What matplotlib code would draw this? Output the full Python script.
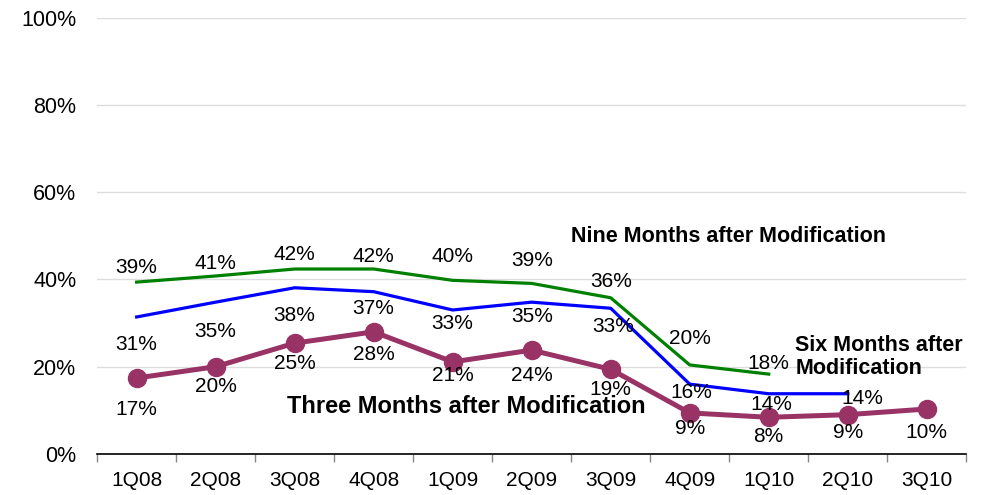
import numpy as np
import matplotlib.pyplot as plt
from matplotlib.ticker import FixedLocator, PercentFormatter

plt.rcParams["font.family"] = ["Liberation Sans", "DejaVu Sans"]

quarters = ["1Q08", "2Q08", "3Q08", "4Q08", "1Q09", "2Q09", "3Q09",
            "4Q09", "1Q10", "2Q10", "3Q10"]
nine_months = [39.4, 40.8, 42.4, 42.4, 39.8, 39.1, 35.8, 20.4, 18.3]
six_months = [31.4, 34.8, 38.1, 37.2, 33.0, 34.8, 33.4, 16.0, 13.8, 13.8]
three_months = [17.4, 20.0, 25.4, 28.0, 21.1, 23.8, 19.4, 9.4, 8.4, 9.0, 10.3]

# label placement (pixels below the point, x shift in pixels)
nine_dy = [-15, -12, -15, -13, -24, -23, -16, -26, -11]
six_dy = [28, 29, 28, 17, 13, 14, 18, 8, 11, 5]
six_dx = [0, 0, 0, 0, 0, 0, 2, 2, 3, 15]
three_dy = [31, 20, 20, 23, 14, 25, 20, 16, 19, 18, 24]

green = "#008000"
blue = "#0000ff"
plum = "#993366"

fig = plt.figure(figsize=(9.81, 4.95), dpi=100)
ax = fig.add_axes([0.099, 0.083, 0.886, 0.881])

x = np.arange(len(quarters))

ax.plot(x[:len(nine_months)], nine_months, color=green, lw=2.3, zorder=3)
ax.plot(x[:len(six_months)], six_months, color=blue, lw=2.3, zorder=3)
ax.plot(x, three_months, color=plum, lw=3.6, marker="o", ms=13,
        zorder=4)

# data labels
lab_size = 15
for xi, v, dy in zip(x, nine_months, nine_dy):
    ax.annotate(f"{round(v)}%", (xi, v), xytext=(0, -dy), textcoords="offset pixels",
                ha="center", va="center", fontsize=lab_size, zorder=5)
for xi, v, dy, dx in zip(x, six_months, six_dy, six_dx):
    ax.annotate(f"{round(v)}%", (xi, v), xytext=(dx, -dy), textcoords="offset pixels",
                ha="center", va="center", fontsize=lab_size, zorder=5)
for xi, v, dy in zip(x, three_months, three_dy):
    ax.annotate(f"{round(v)}%", (xi, v), xytext=(0, -dy), textcoords="offset pixels",
                ha="center", va="center", fontsize=lab_size, zorder=5)

# series names
ax.text(7.49, 49.8, "Nine Months after Modification", fontsize=15.5,
        fontweight="bold", ha="center", va="center")
ax.text(8.335, 22.2, "Six Months after\nModification", fontsize=15.5,
        fontweight="bold", ha="left", va="center", linespacing=1.1)
ax.text(1.905, 10.8, "Three Months after Modification", fontsize=17,
        fontweight="bold", ha="left", va="center")

ax.set_xlim(-0.5, len(quarters) - 0.5)
ax.set_ylim(0, 100)
ax.set_yticks(np.arange(0, 101, 20))
ax.yaxis.set_major_formatter(PercentFormatter(decimals=0))
ax.grid(axis="y", color="#dddddd", lw=1)
ax.set_axisbelow(True)

# ticks between categories, labels at the centres
ax.xaxis.set_major_locator(FixedLocator(np.arange(-0.5, len(quarters), 1)))
ax.xaxis.set_major_formatter(plt.NullFormatter())
ax.xaxis.set_minor_locator(FixedLocator(x))
ax.set_xticklabels(quarters, minor=True)
ax.tick_params(axis="x", which="major", length=6, color="#888888", width=1)
ax.tick_params(axis="x", which="minor", length=0, pad=12, labelsize=15)
ax.tick_params(axis="y", length=0, pad=15, labelsize=15.5)

for side in ["left", "right", "top"]:
    ax.spines[side].set_visible(False)
ax.spines["bottom"].set_color("black")
ax.spines["bottom"].set_linewidth(1.2)

fig.savefig("out.png", dpi=100)
